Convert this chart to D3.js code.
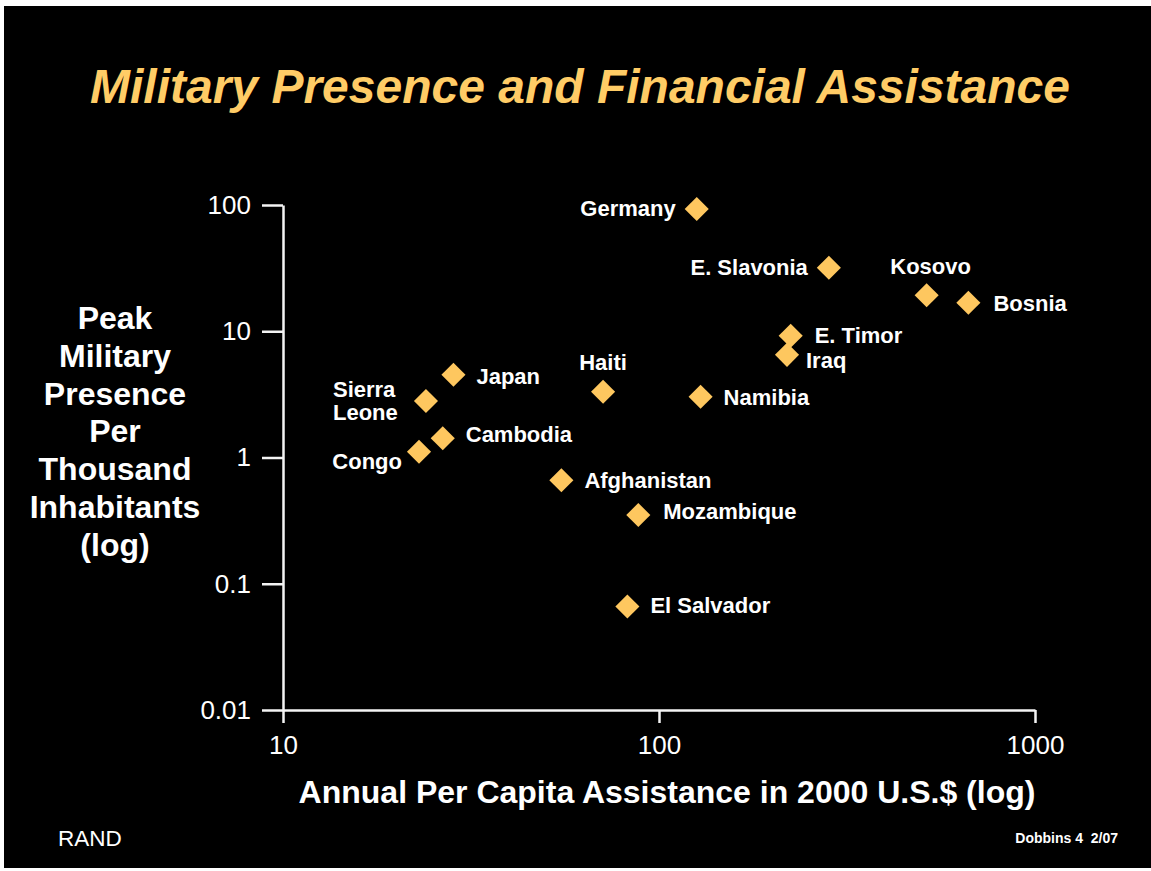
<!DOCTYPE html>
<html>
<head>
<meta charset="utf-8">
<script src="https://cdn.jsdelivr.net/npm/d3@7"></script>
<style>
  html, body { margin: 0; padding: 0; background: #fff; }
  svg text { font-family: "Liberation Sans", Arial, sans-serif; }
</style>
</head>
<body>
<div id="container"></div>
<script>
// values (both axes log)
const countries = ["Germany", "E. Slavonia", "Kosovo", "Bosnia", "E. Timor", "Iraq", "Haiti", "Namibia",
                   "Japan", "Sierra Leone", "Cambodia", "Congo", "Afghanistan", "Mozambique", "El Salvador"];
const assistance = [126, 283, 515, 665, 224, 219, 71, 129, 28.4, 24.0, 26.6, 23.0, 55.0, 88.1, 82.4];
const presence = [93, 31.8, 19.3, 16.8, 9.2, 6.5, 3.32, 3.03, 4.53, 2.80, 1.42, 1.11, 0.66, 0.35, 0.066];

const xTicks = [10, 100, 1000];
const xTickLabels = ["10", "100", "1000"];
const yTicks = [0.01, 0.1, 1, 10, 100];
const yTickLabels = ["0.01", "0.1", "1", "10", "100"];

const yTitleLines = ["Peak", "Military", "Presence", "Per", "Thousand", "Inhabitants", "(log)"];

// where each label sits relative to its diamond: side, extra x, extra y
const labelPlace = [
  ["l", 0, 0], ["l", 0, 0], ["t", 4, 0], ["r", 2, 1], ["r", 1, 0], ["r", -4, 6], ["t", 0, 0], ["r", 0, 1],
  ["r", 0, 2], ["l", -4, 0], ["r", 0, -4], ["l", 4, 10], ["r", 0, 0], ["r", 2, -4], ["r", 0, -1]
];

const W = 1151, H = 871;
const gold = "#fec75f";

const svg = d3.select('#container')
  .append('svg').attr('width', W).attr('height', H);

svg.append('rect')
  .attr('x', 4).attr('y', 6).attr('width', W - 4).attr('height', H - 9)
  .attr('fill', '#000');

svg.append('text')
  .attr('x', 580).attr('y', 103)
  .attr('text-anchor', 'middle')
  .attr('fill', '#ffcc66')
  .attr('font-size', 48).attr('font-weight', 'bold').attr('font-style', 'italic')
  .text('Military Presence and Financial Assistance');

const xScale = d3.scaleLog().domain([10, 1000]).range([283, 1035]);
const yScale = d3.scaleLog().domain([0.01, 100]).range([710, 205]);

const xAxis = svg.append('g')
  .attr('transform', 'translate(0,710)')
  .call(d3.axisBottom(xScale)
    .tickValues(xTicks)
    .tickFormat((d, i) => xTickLabels[i])
    .tickSize(13).tickSizeOuter(0).tickPadding(13));

const yAxis = svg.append('g')
  .attr('transform', 'translate(283,0)')
  .call(d3.axisLeft(yScale)
    .tickValues(yTicks)
    .tickFormat((d, i) => yTickLabels[i])
    .tickSize(21).tickSizeOuter(0).tickPadding(11));

[xAxis, yAxis].forEach(g => {
  g.select('.domain').attr('stroke', '#f4f4f4').attr('stroke-width', 2.5);
  g.selectAll('.tick line').attr('stroke', '#f4f4f4').attr('stroke-width', 2.5);
  g.selectAll('.tick text')
    .attr('fill', '#fff')
    .attr('font-size', 26)
    .attr('font-family', '"Liberation Sans", Arial, sans-serif');
});

// axis titles
svg.append('text')
  .attr('x', 667).attr('y', 803)
  .attr('text-anchor', 'middle')
  .attr('fill', '#fff')
  .attr('font-size', 32).attr('font-weight', 'bold')
  .text('Annual Per Capita Assistance in 2000 U.S.$ (log)');

svg.append('text')
  .attr('text-anchor', 'middle')
  .attr('fill', '#fff')
  .attr('font-size', 32).attr('font-weight', 'bold')
  .selectAll('tspan')
  .data(yTitleLines)
  .join('tspan')
  .attr('x', 115)
  .attr('y', (d, i) => 329 + i * 37.8)
  .text(d => d);

// points
const pts = countries.map((c, i) => ({
  name: c, x: xScale(assistance[i]), y: yScale(presence[i]), place: labelPlace[i]
}));

svg.append('g')
  .selectAll('path')
  .data(pts)
  .join('path')
  .attr('d', d3.symbol().type(d3.symbolSquare).size(290))
  .attr('transform', d => `translate(${d.x},${d.y}) rotate(45)`)
  .attr('fill', gold);

const labels = svg.append('g')
  .attr('fill', '#fff')
  .attr('font-size', 22).attr('font-weight', 'bold');

pts.forEach(d => {
  const [side, dx, dy] = d.place;
  const t = labels.append('text');
  const lines = d.name === 'Sierra Leone' ? ['Sierra', 'Leone'] : [d.name];
  let x = d.x + dx, y = d.y + dy, anchor = 'start';
  if (side === 'r') { x += 23; }
  if (side === 'l') { x -= 21; anchor = 'end'; }
  if (side === 't') { y -= 29; anchor = 'middle'; }
  t.attr('text-anchor', lines.length > 1 ? 'start' : anchor);
  if (lines.length > 1) x -= 68;
  lines.forEach((l, i) => {
    t.append('tspan')
      .attr('x', x)
      .attr('y', y + 7.5 + (i - (lines.length - 1) / 2) * 23)
      .text(l);
  });
});

// footer
svg.append('text')
  .attr('x', 58).attr('y', 846)
  .attr('fill', '#fff')
  .attr('font-size', 22.5)
  .attr('font-family', 'Lato, "Open Sans", sans-serif')
  .text('RAND');

svg.append('text')
  .attr('x', 1118).attr('y', 843)
  .attr('text-anchor', 'end')
  .attr('fill', '#fff')
  .attr('font-size', 14).attr('font-weight', 'bold')
  .attr('xml:space', 'preserve')
  .style('white-space', 'pre')
  .text('Dobbins 4  2/07');
</script>
</body>
</html>
